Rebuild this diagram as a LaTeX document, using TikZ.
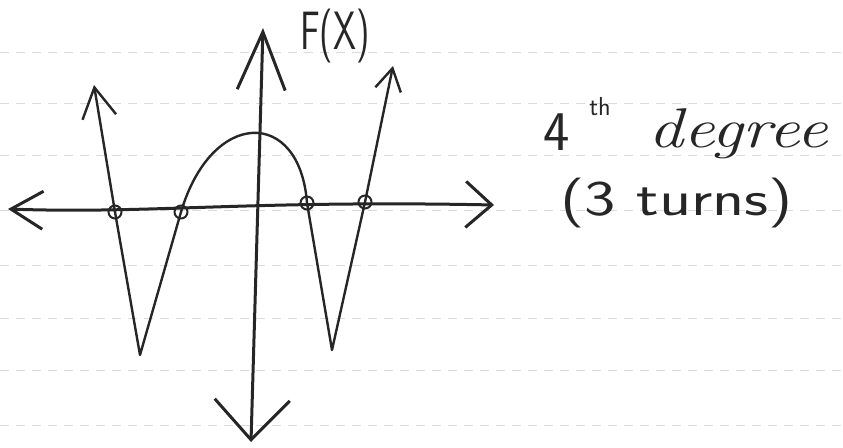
\documentclass[tikz,border=0pt]{standalone}
\usepackage{graphicx}
\usetikzlibrary{arrows.meta}
\colorlet{ink}{black!85}
\tikzset{
  paperline/.style={black!14, line width=1pt, dash pattern=on 9pt off 7pt},
  penline/.style={ink, line width=2.4pt, line cap=round, line join=round},
  axisline/.style={ink, line width=3pt, line cap=round},
  rootmark/.style={circle, draw=ink, line width=2pt, minimum size=13pt, inner sep=0pt},
  hand/.style={ink, font=\fontsize{#1}{#1}\selectfont\sffamily, inner sep=0pt},
}
\begin{document}
\begin{tikzpicture}[x=1pt,y=-1pt]
\useasboundingbox (0,0) rectangle (843,447);
% notebook lines
\foreach \y in {52,103,155,210,265,318,370,425}
  \draw[paperline] (0,\y) -- (843,\y);
% axes
\coordinate (xl) at (8,209);
\coordinate (xr) at (494,205);
\coordinate (yt) at (263,28);
\coordinate (yb) at (251,442);
\draw[axisline, {Straight Barb[length=32pt,width=38pt]}-{Straight Barb[length=26pt,width=46pt]}]
  (xl) .. controls (150,214) and (250,200) .. (xr);
\draw[axisline, {Straight Barb[length=58pt,width=48pt]}-{Straight Barb[length=40pt,width=75pt]}]
  (yt) -- (yb);
% the quartic
\coordinate (ltip) at (94,85);
\coordinate (r1) at (115,212);
\coordinate (lmin) at (140,355);
\coordinate (r2) at (181,212);
\coordinate (r3) at (307,203);
\coordinate (rmin) at (332,350);
\coordinate (r4) at (365,202);
\coordinate (rtip) at (393,66);
\draw[penline, {Straight Barb[length=30pt,width=34pt]}-{Straight Barb[length=22pt,width=26pt]}]
  (ltip) -- (r1) -- (lmin) -- (r2) .. controls (212,108) and (300,108) .. (r3)
  -- (rmin) -- (r4) -- (rtip);
\foreach \r in {r1,r2,r3,r4}
  \node[rootmark] (m\r) at (\r) {};
% labels
\node[hand=54] (fx) at (335,36) {\scalebox{0.68}[1]{F(X)}};
\node[hand=56, anchor=base] (four) at (557,150) {4};
\node[hand=26, anchor=base] (th) at (600,115) {th};
\node[hand=56, anchor=base west] (deg) at (648,147) {\scalebox{1.25}[1]{\rmfamily\itshape degree}};
\node[hand=50, anchor=base west] (turns) at (560,215.5) {\scalebox{1.33}[1]{(3 turns)}};
\end{tikzpicture}
\end{document}
